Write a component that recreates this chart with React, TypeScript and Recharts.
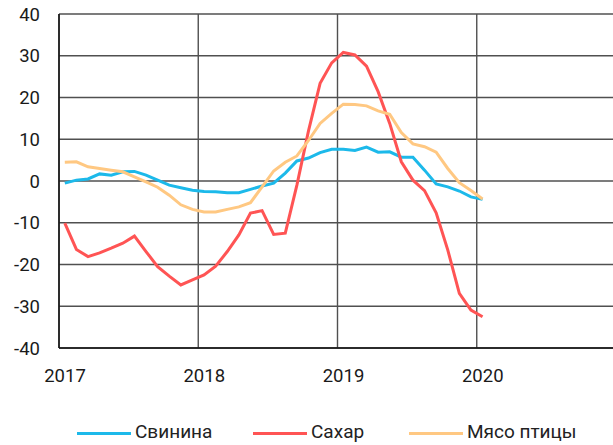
import React from 'react';
import { LineChart, Line, XAxis, YAxis, CartesianGrid, Legend } from 'recharts';

// monthly points, Jan 2017 .. Jan 2020
const startYear = 2017;
const pork = [-0.5, 0.2, 0.5, 1.7, 1.4, 2.2, 2.3, 1.4, 0.2, -1.0, -1.6, -2.2, -2.5, -2.6, -2.8, -2.8, -2.0, -1.2, -0.5, 1.9, 4.8, 5.5, 6.8, 7.6, 7.6, 7.3, 8.1, 6.9, 7.0, 5.7, 5.7, 2.6, -0.7, -1.4, -2.4, -3.8, -4.4];
const sugar = [-10.1, -16.4, -18.1, -17.2, -16.1, -14.9, -13.2, -16.9, -20.5, -22.8, -24.9, -23.7, -22.5, -20.4, -16.9, -12.9, -7.7, -7.1, -12.8, -12.5, -1.0, 12.0, 23.4, 28.3, 30.8, 30.2, 27.5, 21.4, 13.8, 4.6, 0.2, -2.3, -7.6, -16.5, -26.9, -30.9, -32.5];
const poultry = [4.5, 4.6, 3.4, 3.0, 2.6, 2.2, 1.0, -0.2, -1.5, -3.4, -5.7, -6.8, -7.4, -7.4, -6.8, -6.2, -5.2, -1.4, 2.4, 4.5, 6.0, 9.7, 13.8, 16.2, 18.4, 18.3, 18.0, 16.8, 16.0, 11.6, 8.9, 8.2, 6.9, 3.0, -0.4, -2.3, -4.3];

const xTicks = [2017, 2018, 2019, 2020, 2021];
const xLabels = ['2017', '2018', '2019', '2020'];
const yTicks = [-40, -30, -20, -10, 0, 10, 20, 30, 40];

const series = [
  { key: 'pork', name: 'Свинина', color: '#1cb9ea', x: 77 },
  { key: 'sugar', name: 'Сахар', color: '#ff5454', x: 253 },
  { key: 'poultry', name: 'Мясо птицы', color: '#ffc882', x: 409 },
];

const data = pork.map((v, i) => ({
  t: startYear + (i + 0.5) / 12,
  pork: v,
  sugar: sugar[i],
  poultry: poultry[i],
}));

const font = 'Roboto, "Noto Sans", sans-serif';

const XTick = (props: any) => {
  const { x, y, payload } = props;
  const label = String(payload.value);
  if (!xLabels.includes(label)) return null;
  return (
    <text x={x + 6} y={y} dy={14} textAnchor="middle" fontSize={18.5} fill="#1a1a1a" fontFamily={font}>
      {label}
    </text>
  );
};

const LegendContent = () => (
  <div style={{ position: 'relative', height: 24, fontFamily: font }}>
    {series.map((s) => (
      <div key={s.key} style={{ position: 'absolute', left: s.x, top: 0, display: 'flex', alignItems: 'flex-start', gap: 4 }}>
        <div style={{ width: 54, height: 3, marginTop: 11, background: s.color }} />
        <span style={{ fontSize: 19, lineHeight: '22px', marginTop: 0, color: '#222', whiteSpace: 'nowrap' }}>{s.name}</span>
      </div>
    ))}
  </div>
);

export default function App() {
  return (
    <div style={{
      position: 'absolute',
      left: 0,
      top: 0,
      width: 613,
      height: 445,
      overflow: 'hidden',
      background: '#fff',
      fontFamily: font,
    }}>
      <LineChart width={620} height={445} data={data} margin={{ top: 14, right: 4, bottom: 0, left: 0 }}>
        <CartesianGrid stroke="#505050" strokeWidth={1.4} />
        <XAxis
          dataKey="t"
          type="number"
          domain={[2017, 2021]}
          ticks={xTicks}
          height={73}
          tickLine={false}
          tickSize={0}
          tickMargin={20}
          axisLine={{ stroke: '#111', strokeWidth: 1.5 }}
          tick={<XTick />}
        />
        <YAxis
          domain={[-40, 40]}
          ticks={yTicks}
          width={59}
          tickLine={false}
          tickSize={0}
          tickMargin={19}
          axisLine={{ stroke: '#111', strokeWidth: 1.5 }}
          tick={{ fontSize: 18.5, fill: '#1a1a1a', fontFamily: font }}
        />
        <Legend verticalAlign="bottom" content={<LegendContent />} wrapperStyle={{ left: 0, width: 613 }} />
        {series.map((s) => (
          <Line
            key={s.key}
            type="linear"
            dataKey={s.key}
            name={s.name}
            stroke={s.color}
            strokeWidth={3}
            dot={false}
            isAnimationActive={false}
          />
        ))}
      </LineChart>
    </div>
  );
}
